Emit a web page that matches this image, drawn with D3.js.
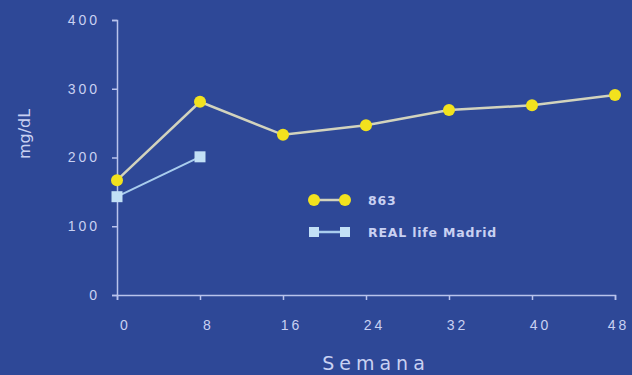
<!DOCTYPE html>
<html>
<head>
<meta charset="utf-8">
<script src="https://cdn.jsdelivr.net/npm/d3@7"></script>
<style>
  body { margin: 0; background: #2e4897; }
  svg { display: block; font-family: "DejaVu Sans", sans-serif; }
</style>
</head>
<body>
<main></main>
<script>
const weeks = [0, 8, 16, 24, 32, 40, 48]
const s863 = [167, 281, 233, 247, 269, 276, 291]
const realWeeks = [0, 8]
const realMadrid = [143, 201]
const yTicks = [0, 100, 200, 300, 400]
const seriesNames = ["863", "REAL life Madrid"]

const width = 632, height = 375
const margin = { top: 20, right: 17, bottom: 80, left: 117 }

let svg = d3.select("main").append("svg")
    .attr("width", width)
    .attr("height", height)

svg.append("rect").attr("width", width).attr("height", height).attr("fill", "#2e4897")

let x = d3.scaleLinear().domain([0, 48]).range([margin.left, width - margin.right])
let y = d3.scaleLinear().domain([0, 400]).range([height - margin.bottom, margin.top])

const axisColor = "#b9c3ec"
const textColor = "#c9d1f2"

let yAxis = svg.append("g")
    .attr("transform", `translate(${margin.left},0)`)
    .call(d3.axisLeft(y).tickValues(yTicks).tickSize(5).tickPadding(12))
let xAxis = svg.append("g")
    .attr("transform", `translate(0,${y(0)})`)
    .call(d3.axisBottom(x).tickValues(weeks).tickSize(5).tickPadding(20))

for (let ax of [xAxis, yAxis]) {
    ax.select(".domain").attr("stroke", axisColor).attr("stroke-width", 1.5)
    ax.selectAll(".tick line").attr("stroke", axisColor).attr("stroke-width", 1.5)
    ax.selectAll("text").attr("fill", textColor).attr("font-size", 14).attr("letter-spacing", 3)
}
// labels sit a bit right of their ticks; keep the last one inside the page
xAxis.selectAll("text").attr("dx", (d, i) => i == weeks.length - 1 ? 3 : 8)

svg.append("text")
    .attr("x", 376).attr("y", 370)
    .attr("text-anchor", "middle")
    .attr("fill", textColor)
    .attr("font-size", 19)
    .attr("letter-spacing", 5)
    .text("Semana")

svg.append("text")
    .attr("transform", "translate(30,134) rotate(-90)")
    .attr("text-anchor", "middle")
    .attr("fill", textColor)
    .attr("font-size", 16)
    .text("mg/dL")

let line = d3.line().x(d => x(d[0])).y(d => y(d[1]))

let d863 = weeks.map((w, i) => [w, s863[i]])
let dReal = realWeeks.map((w, i) => [w, realMadrid[i]])

svg.append("path").datum(d863).attr("d", line)
    .attr("fill", "none").attr("stroke", "#d2d3bd").attr("stroke-width", 2.5)
svg.append("path").datum(dReal).attr("d", line)
    .attr("fill", "none").attr("stroke", "#a9cdee").attr("stroke-width", 2)

svg.selectAll(".pt863").data(d863).enter().append("circle")
    .attr("cx", d => x(d[0])).attr("cy", d => y(d[1])).attr("r", 6)
    .attr("fill", "#f2e21e")
svg.selectAll(".ptReal").data(dReal).enter().append("rect")
    .attr("x", d => x(d[0]) - 5.5).attr("y", d => y(d[1]) - 5.5)
    .attr("width", 11).attr("height", 11)
    .attr("fill", "#c2e0f6")

// legend
let legend = svg.append("g").attr("transform", "translate(314,200)")
let items = [
    { name: seriesNames[0], color: "#f2e21e", line: "#d2d3bd", shape: "circle" },
    { name: seriesNames[1], color: "#c2e0f6", line: "#a9cdee", shape: "square" }
]
items.forEach((it, i) => {
    let g = legend.append("g").attr("transform", `translate(0,${i * 32})`)
    g.append("line").attr("x1", 0).attr("x2", 31).attr("stroke", it.line).attr("stroke-width", 2.5)
    for (let cx of [0, 31]) {
        if (it.shape == "circle") g.append("circle").attr("cx", cx).attr("r", 6).attr("fill", it.color)
        else g.append("rect").attr("x", cx - 5).attr("y", -5).attr("width", 10).attr("height", 10).attr("fill", it.color)
    }
    g.append("text").attr("x", 54).attr("y", 5)
        .attr("fill", textColor).attr("font-size", 12.5).attr("font-weight", "bold")
        .attr("letter-spacing", 0.8)
        .text(it.name)
})
</script>
</body>
</html>
